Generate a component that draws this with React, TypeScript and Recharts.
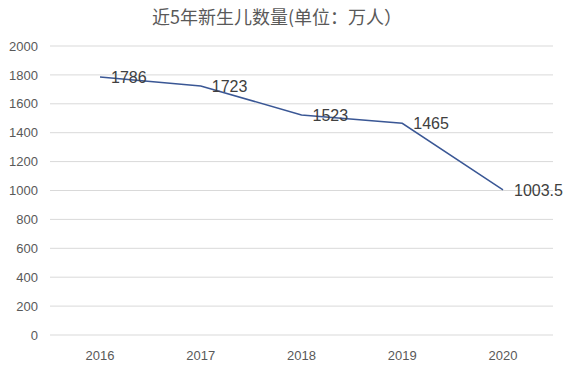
import { CartesianGrid, LabelList, Line, LineChart, XAxis, YAxis } from 'recharts'

const years = ['2016', '2017', '2018', '2019', '2020']
const births = [1786, 1723, 1523, 1465, 1003.5]
const yTicks = [0, 200, 400, 600, 800, 1000, 1200, 1400, 1600, 1800, 2000]

const data = years.map((year, i) => ({ year, births: births[i] }))

const font = "'Liberation Sans', 'Noto Sans', sans-serif"

export default function App() {
  return (
    <div style={{ position: 'absolute', left: 0, top: 0, width: 568, height: 371, background: '#fff', fontFamily: font }}>
      <div
        style={{
          position: 'absolute',
          top: 3,
          left: 0,
          width: 554,
          textAlign: 'center',
          fontFamily: "'Noto Sans CJK SC', sans-serif",
          fontSize: 18,
          color: '#595959',
        }}
      >
        近5年新生儿数量(单位：万人）
      </div>
      <LineChart width={568} height={371} data={data} margin={{ top: 46, right: 15, left: 10, bottom: 6 }}>
        <CartesianGrid vertical={false} stroke='#d9d9d9' />
        <XAxis
          dataKey='year'
          axisLine={false}
          tickLine={false}
          height={30}
          padding={{ left: 50, right: 50 }}
          tick={{ fill: '#595959', fontSize: 13, fontFamily: font }}
          tickMargin={10}
        />
        <YAxis
          width={40}
          domain={[0, 2000]}
          ticks={yTicks}
          axisLine={false}
          tickLine={false}
          tick={{ fill: '#595959', fontSize: 13, fontFamily: font }}
          tickMargin={6}
        />
        <Line
          type='linear'
          dataKey='births'
          stroke='#3a5795'
          strokeWidth={1.5}
          dot={false}
          isAnimationActive={false}
        >
          <LabelList dataKey='births' position='right' offset={11} fill='#404040' fontSize={16} fontFamily={font} />
        </Line>
      </LineChart>
    </div>
  )
}
